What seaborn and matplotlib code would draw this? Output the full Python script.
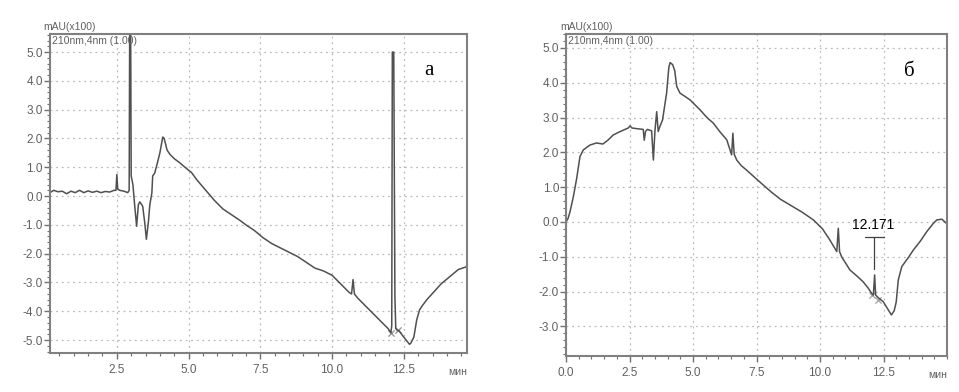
import matplotlib
matplotlib.use("Agg")
import matplotlib.pyplot as plt
import seaborn as sns
from matplotlib.ticker import MultipleLocator

# chromatogram (а): time, min / signal, mAU x100
t_a = [0.17, 0.3, 0.45, 0.6, 0.75, 0.9, 1.05, 1.2, 1.35, 1.5, 1.65, 1.8, 1.95, 2.1, 2.25,
       2.4, 2.47, 2.5, 2.53, 2.6, 2.75, 2.88, 2.93, 2.95, 2.98, 3.0, 3.03, 3.06, 3.12, 3.19,
       3.25, 3.3, 3.4, 3.47, 3.53, 3.6, 3.65, 3.72, 3.75, 3.82, 3.9, 4.0, 4.1, 4.15, 4.25,
       4.35, 4.5, 4.7, 4.9, 5.1, 5.3, 5.6, 5.9, 6.2, 6.5, 6.8, 7.0, 7.3, 7.6, 7.9,
       8.2, 8.5, 8.8, 9.1, 9.4, 9.7, 10.0, 10.3, 10.6, 10.68, 10.73, 10.78, 10.9, 11.2, 11.5,
       11.8, 11.95, 12.05, 12.08, 12.1, 12.15, 12.19, 12.22, 12.26, 12.35, 12.5, 12.7, 12.75, 12.85, 12.95,
       13.05, 13.15, 13.3, 13.5, 13.8, 14.1, 14.4, 14.7]
y_a = [0.12, 0.2, 0.15, 0.17, 0.08, 0.17, 0.12, 0.2, 0.12, 0.18, 0.13, 0.17, 0.12, 0.16, 0.14,
       0.2, 0.2, 0.75, 0.25, 0.2, 0.17, 0.12, 0.2, 6.5, 6.5, 0.7, 0.55, 0.4, -0.3, -1.05,
       -0.3, -0.2, -0.35, -0.9, -1.5, -0.9, -0.3, 0.1, 0.7, 0.8, 1.1, 1.5, 2.05, 2.0, 1.6,
       1.45, 1.3, 1.15, 0.98, 0.82, 0.55, 0.2, -0.15, -0.45, -0.65, -0.85, -1.0, -1.2, -1.45, -1.65,
       -1.8, -1.95, -2.1, -2.3, -2.5, -2.6, -2.75, -3.05, -3.35, -3.4, -2.9, -3.4, -3.55, -3.85, -4.15,
       -4.45, -4.6, -4.75, -4.5, 5.0, 5.0, -3.5, -4.6, -4.65, -4.7, -4.9, -5.15, -5.1, -4.9, -4.3,
       -3.95, -3.8, -3.6, -3.38, -3.05, -2.8, -2.55, -2.45]

# chromatogram (б)
t_b = [0.0, 0.08, 0.16, 0.29, 0.42, 0.55, 0.68, 0.94, 1.2, 1.45, 1.65, 1.86, 2.05, 2.26, 2.45,
       2.52, 2.6, 2.8, 3.04, 3.08, 3.13, 3.2, 3.37, 3.44, 3.5, 3.57, 3.63, 3.7, 3.8, 3.96,
       4.05, 4.1, 4.2, 4.28, 4.36, 4.49, 4.7, 4.88, 5.1, 5.28, 5.55, 5.8, 6.05, 6.33, 6.52,
       6.57, 6.62, 6.72, 6.9, 7.11, 7.4, 7.77, 8.1, 8.45, 8.82, 9.3, 9.74, 10.1, 10.39, 10.66,
       10.72, 10.77, 10.85, 11.18, 11.45, 11.7, 11.9, 12.03, 12.1, 12.15, 12.19, 12.3, 12.49, 12.65, 12.81,
       12.92, 13.0, 13.08, 13.22, 13.45, 13.68, 13.95, 14.2, 14.45, 14.6, 14.8, 14.98]
y_b = [0.0, 0.1, 0.3, 0.73, 1.25, 1.88, 2.07, 2.21, 2.27, 2.24, 2.35, 2.5, 2.57, 2.64, 2.7,
       2.76, 2.7, 2.68, 2.66, 2.35, 2.6, 2.66, 2.62, 1.78, 2.6, 3.17, 2.6, 2.75, 2.93, 3.7,
       4.45, 4.58, 4.52, 4.35, 3.89, 3.7, 3.6, 3.51, 3.35, 3.22, 3.0, 2.84, 2.6, 2.36, 1.93,
       2.55, 1.95, 1.78, 1.62, 1.49, 1.3, 1.06, 0.85, 0.65, 0.49, 0.28, 0.06, -0.2, -0.52, -0.85,
       -0.18, -0.85, -1.0, -1.38, -1.55, -1.72, -1.9, -2.05, -2.1, -1.52, -2.1, -2.18, -2.29, -2.48, -2.67,
       -2.55, -2.3, -1.67, -1.28, -1.05, -0.8, -0.55, -0.28, -0.05, 0.06, 0.08, -0.04]

# integration marks (peak start / end)
marks_a_t = [12.05, 12.3]
marks_a_y = [-4.75, -4.65]
marks_b_t = [12.05, 12.3]
marks_b_y = [-2.1, -2.25]

xticks_a = [2.5, 5.0, 7.5, 10.0, 12.5]
xticks_b = [0.0, 2.5, 5.0, 7.5, 10.0, 12.5]
yticks_a = [5.0, 4.0, 3.0, 2.0, 1.0, 0.0, -1.0, -2.0, -3.0, -4.0, -5.0]
yticks_b = [5.0, 4.0, 3.0, 2.0, 1.0, 0.0, -1.0, -2.0, -3.0]

sns.set_style("white")
plt.rcParams['font.family'] = ['Liberation Sans', 'DejaVu Sans']

fig = plt.figure(figsize=(9.59, 3.92), dpi=100)
ax_a = fig.add_axes([0.0521, 0.0995, 0.4348, 0.8138])
ax_b = fig.add_axes([0.5902, 0.0918, 0.3973, 0.8214])

line_col = "#505050"
txt_col = "#606060"


def style_axis(ax, xlim, ylim, xticks, yticks):
    ax.set_xlim(*xlim)
    ax.set_ylim(*ylim)
    ax.set_xticks(xticks)
    ax.set_yticks(yticks)
    ax.set_xticklabels([f"{v:.1f}" for v in xticks])
    ax.set_yticklabels([f"{v:.1f}" for v in yticks])
    ax.xaxis.set_minor_locator(MultipleLocator(0.5))
    ax.yaxis.set_minor_locator(MultipleLocator(0.2))
    ax.tick_params(which="major", direction="out", length=4, width=1, color="#707070",
                   labelsize=8.5, labelcolor=txt_col, pad=1, left=True, bottom=True)
    ax.tick_params(axis="x", which="major", pad=4)
    ax.tick_params(which="minor", direction="out", length=2, width=0.8, color="#707070",
                   left=True, bottom=True)
    ax.grid(True, which="major", ls=(0, (1.5, 3)), color="#bbbbbb", lw=0.9)
    for s in ax.spines.values():
        s.set_color("#808080")
        s.set_linewidth(1.5)
    ax.set_xlabel("")
    ax.set_ylabel("")
    ax.text(-0.015, 1.005, "mAU(x100)", transform=ax.transAxes, fontsize=7.5,
            color=txt_col, va="bottom", ha="left")
    ax.text(0.005, 0.995, "210nm,4nm (1.00)", transform=ax.transAxes, fontsize=7.5,
            color=txt_col, va="top", ha="left")
    ax.text(1.0, -0.06, "мин", transform=ax.transAxes, fontsize=7.5,
            color=txt_col, va="center", ha="right")


# panel а
sns.lineplot(x=t_a, y=y_a, ax=ax_a, color=line_col, lw=1.1, estimator=None, sort=False)
sns.scatterplot(x=marks_a_t, y=marks_a_y, ax=ax_a, marker="x", s=20, color="#999999", linewidth=1)
style_axis(ax_a, (0.17, 14.7), (-5.45, 5.63), xticks_a, yticks_a)
ax_a.text(0.91, 0.885, "а", transform=ax_a.transAxes, fontsize=15,
          family=["Liberation Serif", "DejaVu Serif"], color="black", va="center", ha="center")

# panel б
sns.lineplot(x=t_b, y=y_b, ax=ax_b, color=line_col, lw=1.1, estimator=None, sort=False)
sns.scatterplot(x=marks_b_t, y=marks_b_y, ax=ax_b, marker="x", s=20, color="#aaaaaa", linewidth=1)
style_axis(ax_b, (0.0, 15.0), (-3.85, 5.4), xticks_b, yticks_b)
ax_b.text(0.9, 0.885, "б", transform=ax_b.transAxes, fontsize=15,
          family=["Liberation Serif", "DejaVu Serif"], color="black", va="center", ha="center")

# peak label 12.171
ax_b.plot([11.77, 12.52], [-0.44, -0.44], color="#404040", lw=0.9)
ax_b.plot([12.14, 12.14], [-0.44, -1.36], color="#404040", lw=0.9)
ax_b.text(12.1, -0.1, "12.171", fontsize=10, color="black", ha="center", va="center")

fig.savefig("out.png", dpi=100)
